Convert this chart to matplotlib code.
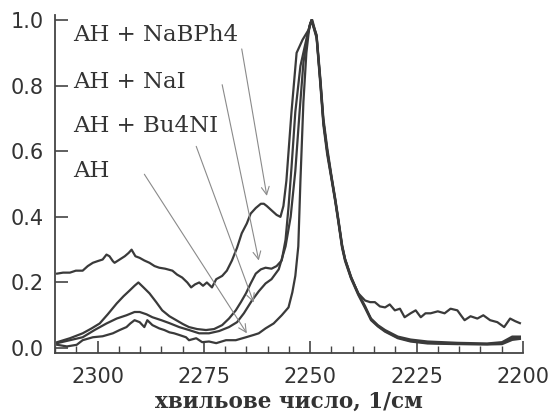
import matplotlib
matplotlib.use("Agg")
import matplotlib.pyplot as plt
from matplotlib.ticker import MultipleLocator, FormatStrFormatter

# ---- data ----
nabph4_wn = [2309.5, 2308.1, 2306.5, 2305.1, 2303.5, 2302.3, 2301.1, 2300.0, 2298.8, 2297.9,
             2297.2, 2296.4, 2296.0, 2294.8, 2293.6, 2292.7, 2292.0, 2291.1, 2290.1, 2289.0,
             2287.8, 2286.6, 2285.5, 2284.1, 2282.4, 2281.3, 2280.1, 2278.9, 2278.0, 2277.1,
             2276.1, 2275.2, 2274.3, 2273.1, 2272.1, 2270.7, 2269.6, 2268.4, 2267.2, 2266.1,
             2264.9, 2264.0, 2262.8, 2261.6, 2260.9, 2260.2, 2259.1, 2257.9, 2257.0, 2256.3,
             2255.6, 2254.4, 2253.2, 2251.8, 2250.4, 2249.7,
             2248.5, 2247.6, 2246.9, 2246.0, 2245.0, 2244.1, 2243.4, 2242.5, 2241.8, 2240.4,
             2238.7, 2237.1, 2235.9, 2234.8, 2233.6, 2232.4, 2231.3, 2230.1, 2228.9, 2227.8,
             2226.4, 2225.2, 2224.0, 2222.9, 2221.7, 2220.0, 2218.4, 2217.0, 2215.4, 2214.4,
             2213.7, 2212.3, 2210.7, 2209.3, 2207.7, 2206.0, 2204.4, 2203.0, 2201.8, 2200.7]
nabph4_abs = [0.227, 0.230, 0.230, 0.236, 0.236, 0.250, 0.260, 0.265, 0.270, 0.285,
              0.280, 0.265, 0.260, 0.270, 0.280, 0.290, 0.300, 0.280, 0.275, 0.267,
              0.260, 0.250, 0.245, 0.242, 0.236, 0.224, 0.215, 0.200, 0.185, 0.194,
              0.200, 0.190, 0.200, 0.185, 0.210, 0.220, 0.236, 0.267, 0.306, 0.350,
              0.380, 0.410, 0.427, 0.440, 0.440, 0.433, 0.420, 0.406, 0.400, 0.433,
              0.510, 0.720, 0.900, 0.940, 0.970, 1.000,
              0.950, 0.810, 0.690, 0.600, 0.520, 0.450, 0.390, 0.310, 0.270, 0.215,
              0.167, 0.145, 0.140, 0.140, 0.127, 0.124, 0.133, 0.115, 0.120, 0.094,
              0.106, 0.115, 0.094, 0.106, 0.106, 0.112, 0.106, 0.120, 0.115, 0.097,
              0.085, 0.097, 0.090, 0.100, 0.085, 0.079, 0.064, 0.090, 0.082, 0.076]

nai_wn = [2309.5, 2306.5, 2303.5, 2301.4, 2299.5, 2297.6, 2295.5, 2293.9, 2292.5, 2291.3,
          2290.4, 2289.2, 2287.8, 2286.2, 2284.8, 2283.1, 2281.5, 2279.9, 2278.5, 2276.6,
          2274.5, 2272.6, 2270.7, 2269.1, 2267.5, 2266.3, 2265.1, 2264.0, 2262.8, 2261.6,
          2260.5, 2259.1, 2257.9, 2256.7, 2255.8, 2255.1, 2254.4, 2253.5, 2252.3, 2251.1,
          2250.0, 2249.5,
          2248.5, 2247.6, 2246.9, 2246.0, 2245.0, 2244.1, 2243.4, 2242.5, 2241.8, 2240.4,
          2238.7, 2237.1, 2235.7, 2234.1, 2232.4, 2229.4, 2226.4, 2222.4, 2215.4, 2208.4,
          2204.9, 2202.5, 2200.7]
nai_abs = [0.018, 0.030, 0.045, 0.060, 0.075, 0.103, 0.136, 0.158, 0.175, 0.190,
           0.200, 0.185, 0.167, 0.140, 0.115, 0.097, 0.085, 0.073, 0.064, 0.058,
           0.055, 0.058, 0.070, 0.090, 0.115, 0.140, 0.167, 0.197, 0.227, 0.240,
           0.245, 0.242, 0.250, 0.267, 0.330, 0.430, 0.550, 0.720, 0.860, 0.930,
           0.990, 1.000,
           0.950, 0.810, 0.690, 0.600, 0.520, 0.450, 0.390, 0.310, 0.270, 0.215,
           0.167, 0.125, 0.090, 0.070, 0.055, 0.035, 0.026, 0.020, 0.016, 0.014,
           0.018, 0.035, 0.035]

bu4ni_wn = [2309.5, 2306.5, 2303.5, 2300.7, 2297.9, 2295.5, 2293.2, 2291.3, 2290.1, 2288.5,
            2287.1, 2285.0, 2283.1, 2280.8, 2278.5, 2276.1, 2273.8, 2271.4, 2269.1, 2267.2,
            2265.6, 2263.7, 2262.1, 2260.5, 2259.1, 2257.4, 2255.8, 2254.6, 2253.5, 2252.5,
            2251.6, 2250.7, 2249.7,
            2248.5, 2247.6, 2246.9, 2246.0, 2245.0, 2244.1, 2243.4, 2242.5, 2241.8, 2240.4,
            2238.7, 2237.1, 2235.7, 2234.1, 2232.4, 2229.4, 2226.4, 2222.4, 2215.4, 2208.4,
            2204.9, 2202.5, 2200.7]
bu4ni_abs = [0.015, 0.024, 0.033, 0.055, 0.075, 0.090, 0.100, 0.110, 0.110, 0.103,
             0.094, 0.085, 0.076, 0.064, 0.055, 0.045, 0.045, 0.052, 0.064, 0.079,
             0.106, 0.145, 0.173, 0.197, 0.210, 0.240, 0.310, 0.400, 0.540, 0.720,
             0.870, 0.950, 1.000,
             0.955, 0.820, 0.700, 0.610, 0.525, 0.455, 0.395, 0.315, 0.272, 0.218,
             0.165, 0.128, 0.088, 0.068, 0.052, 0.032, 0.022, 0.016, 0.013, 0.011,
             0.012, 0.025, 0.028]

ah_wn = [2309.5, 2307.2, 2304.9, 2303.5, 2301.1, 2298.8, 2296.4, 2294.8, 2293.2, 2292.3,
         2291.3, 2290.1, 2289.0, 2288.3, 2287.1, 2285.5, 2284.3, 2283.1, 2282.0, 2280.8,
         2279.2, 2278.5, 2276.8, 2275.4, 2273.8, 2272.1, 2269.8, 2267.5, 2265.1, 2263.3,
         2262.1, 2260.5, 2258.6, 2256.7, 2255.1, 2254.2, 2253.5, 2252.8, 2252.3, 2251.6,
         2250.9, 2250.2, 2249.7,
         2248.5, 2247.6, 2246.9, 2246.0, 2245.0, 2244.1, 2243.4, 2242.5, 2241.8, 2240.4,
         2238.7, 2237.1, 2235.7, 2234.1, 2232.4, 2229.4, 2226.4, 2222.4, 2215.4, 2208.4,
         2204.9, 2202.5, 2200.7]
ah_abs = [0.010, 0.005, 0.010, 0.024, 0.033, 0.036, 0.045, 0.055, 0.064, 0.075,
          0.085, 0.079, 0.064, 0.085, 0.070, 0.060, 0.055, 0.048, 0.045, 0.040,
          0.033, 0.024, 0.030, 0.018, 0.020, 0.015, 0.024, 0.024, 0.033, 0.040,
          0.045, 0.060, 0.075, 0.100, 0.124, 0.170, 0.220, 0.310, 0.510, 0.750,
          0.900, 0.980, 1.000,
          0.945, 0.800, 0.680, 0.590, 0.515, 0.445, 0.385, 0.305, 0.265, 0.212,
          0.162, 0.122, 0.085, 0.066, 0.050, 0.030, 0.020, 0.014, 0.012, 0.012,
          0.015, 0.030, 0.032]

labels = ["AH + NaBPh4", "AH + NaI", "AH + Bu4NI", "AH"]
label_y = [0.955, 0.81, 0.676, 0.54]
arrow_start = [(2266.1, 0.912), (2270.7, 0.803), (2276.8, 0.615), (2289.0, 0.53)]
arrow_end = [(2260.2, 0.464), (2262.1, 0.267), (2263.3, 0.139), (2264.9, 0.045)]

xticks = [2300, 2275, 2250, 2225, 2200]
yticks = [0.0, 0.2, 0.4, 0.6, 0.8, 1.0]

# ---- figure ----
fig = plt.figure(figsize=(5.53, 4.13), dpi=100)
ax = fig.add_axes([0.0995, 0.1453, 0.846, 0.818])

line_color = "#3a3a3a"
for wn, ab in [(ah_wn, ah_abs), (bu4ni_wn, bu4ni_abs), (nai_wn, nai_abs), (nabph4_wn, nabph4_abs)]:
    ax.plot(wn, ab, color=line_color, lw=1.6, solid_joinstyle="round")

ax.set_xlim(2310, 2200)
ax.set_ylim(-0.015, 1.015)
ax.set_xticks(xticks)
ax.set_yticks(yticks)
ax.xaxis.set_minor_locator(MultipleLocator(5))
ax.yaxis.set_major_formatter(FormatStrFormatter("%.1f"))

for s in ["top", "right"]:
    ax.spines[s].set_visible(False)
for s in ["left", "bottom"]:
    ax.spines[s].set_color("#444444")
    ax.spines[s].set_linewidth(1.3)

ax.tick_params(axis="both", which="major", direction="in", length=9, width=1.2,
               color="#444444", labelsize=15, labelcolor="#333333")
ax.tick_params(axis="x", which="major", pad=10)
ax.tick_params(axis="x", which="minor", direction="in", length=5, width=1.0, color="#444444")
ax.tick_params(axis="y", which="major", pad=8)

for lab, ly in zip(labels, label_y):
    ax.text(2305.8, ly, lab, family="DejaVu Serif", fontsize=16.5, color="#333333",
            ha="left", va="center")

for (x0, y0), (x1, y1) in zip(arrow_start, arrow_end):
    ax.annotate("", xy=(x1, y1), xytext=(x0, y0),
                arrowprops=dict(arrowstyle="->", color="#8a8a8a", lw=0.8,
                                mutation_scale=14, shrinkA=0, shrinkB=0))

ax.set_xlabel("хвильове число, 1/см", family="DejaVu Serif", fontsize=15.5,
              color="#333333", labelpad=3, fontweight="bold")

fig.savefig("out.png", dpi=100)
